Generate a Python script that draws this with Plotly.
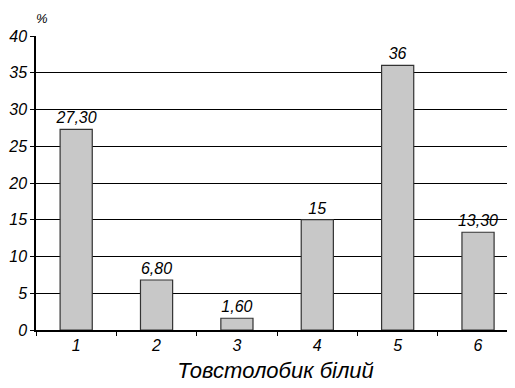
import plotly.graph_objects as go

categories = ["1", "2", "3", "4", "5", "6"]
values = [27.3, 6.8, 1.6, 15, 36, 13.3]
labels = ["27,30", "6,80", "1,60", "15", "36", "13,30"]
y_ticks = [0, 5, 10, 15, 20, 25, 30, 35, 40]

font_it = dict(family="Liberation Sans, Arial, sans-serif", style="italic", color="black")

fig = go.Figure(go.Bar(
    x=categories, y=values, text=labels, textposition="outside", constraintext="none",
    textfont=dict(size=16, **font_it), cliponaxis=False,
    width=0.4, marker=dict(color="#c8c8c8", line=dict(color="#333333", width=1.2)),
))

fig.update_layout(
    width=515, height=388, margin=dict(l=28, r=8, t=28, b=66),
    paper_bgcolor="white", plot_bgcolor="white", showlegend=False,
    font=dict(size=16, **font_it),
    xaxis=dict(type="category", range=[-0.5, 5.46], tickson="boundaries", ticks="outside",
               ticklen=4, tickcolor="black", showline=True, linecolor="black", linewidth=1.5,
               showgrid=False, tickfont=dict(size=16, **font_it), automargin=False,
               title=dict(text="Товстолобик білий", font=dict(size=22, **font_it), standoff=10)),
    yaxis=dict(range=[0, 40], tickvals=y_ticks, ticks="outside", ticklen=4, tickcolor="black",
               showline=True, linecolor="black", linewidth=1.5, showgrid=True, gridcolor="black",
               gridwidth=1, zeroline=False, tickfont=dict(size=16, **font_it), automargin=False),
    annotations=[dict(text="%", x=0, y=1, xref="paper", yref="paper", xanchor="left", yanchor="bottom",
                      xshift=-2, yshift=8, showarrow=False, font=dict(size=13, **font_it))],
)

fig.write_html("out.html")
